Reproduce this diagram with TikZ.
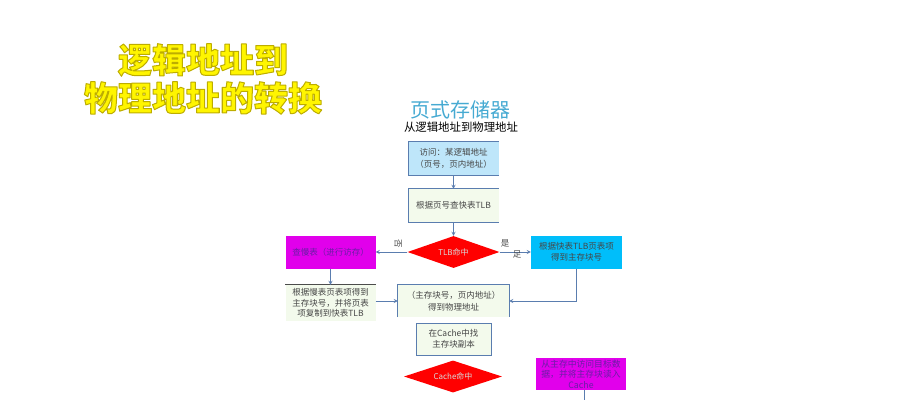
\documentclass[tikz,border=0pt]{standalone}
\usepackage{fontspec}
\setmainfont{Noto Sans CJK SC}
\newfontfamily\pagingSketchHeavy{Noto Sans CJK SC Black}
\usetikzlibrary{shapes.geometric}
\definecolor{pagingSketchLine}{RGB}{90,125,175}
\definecolor{pagingSketchText}{RGB}{70,70,70}
\definecolor{pagingSketchPale}{RGB}{243,250,236}
\definecolor{pagingSketchSky}{RGB}{190,230,250}
\definecolor{pagingSketchCyan}{RGB}{0,190,250}
\definecolor{pagingSketchTitle}{RGB}{70,170,210}
\definecolor{pagingSketchMagenta}{RGB}{225,0,235}
\definecolor{pagingSketchPurple}{RGB}{105,30,165}
\definecolor{pagingSketchHead}{RGB}{255,245,0}
\tikzset{pagingSketchBox/.style={
    font=\fontsize{8.5}{11.5}\selectfont,
    text=pagingSketchText,
    align=center,
    inner sep=0pt,
    minimum width=90pt,
    minimum height=33pt,
    fill=pagingSketchPale,
  }
}
\tikzset{pagingSketchTest/.style={
    diamond,
    aspect=3,
    font=\fontsize{8}{10}\selectfont,
    text=white!85!black,
    fill=red,
    inner sep=0pt,
    minimum width=92pt,
    minimum height=32pt,
  }
}
\tikzset{pagingSketchArrow/.style={
    ->,
    >=stealth,
    line width=0.8pt,
    pagingSketchLine,
  }
}
\tikzset{pagingSketchEdge/.style={
    line width=0.8pt,
    pagingSketchLine,
  }
}
\tikzset{pagingSketchLabel/.style={
    font=\fontsize{8.5}{10}\selectfont,
    text=pagingSketchText,
    inner sep=0pt,
  }
}
\tikzset{pagingSketchHeadline/.style={
    font=\pagingSketchHeavy\fontsize{34}{38}\selectfont,
    inner sep=0pt,
  }
}
\newcommand{\pagingSketchOutline}[1]{%
  {\color{pagingSketchHead}\special{pdf:literal direct 2 Tr 1 w 1 j 0.74 0.68 0 RG}#1}}
\newcommand{\pagingSketchDrawNodes}{
  \node [pagingSketchBox, fill=pagingSketchSky] (visit)
  at (453.5, 158.5) {访问：某逻辑地址\\（页号，页内地址）};
  \node [pagingSketchBox] (lookup)
  at (453.5, 205.5) {根据页号查快表TLB};
  \node [pagingSketchTest] (tlbhit)
  at (453.5, 252) {TLB命中};
  \node [pagingSketchBox, fill=pagingSketchMagenta, text=pagingSketchPurple] (slowtable)
  at (330.5, 252) {查慢表（进行访存）};
  \node [pagingSketchBox, fill=pagingSketchCyan, minimum width=91pt] (tlbentry)
  at (576.5, 252) {根据快表TLB页表项\\得到主存块号};
  \node [pagingSketchBox, minimum height=36pt, font=\fontsize{8.5}{10.6}\selectfont] (refill)
  at (330.5, 303) {根据慢表页表项得到\\主存块号，并将页表\\项复制到快表TLB};
  \node [pagingSketchBox, minimum width=111pt, minimum height=32pt] (physical)
  at (453.5, 301) {（主存块号，页内地址）\\得到物理地址};
  \node [pagingSketchBox, minimum width=75pt, minimum height=32pt, draw=pagingSketchLine, line width=0.8pt] (cachefind)
  at (453.5, 339) {在Cache中找\\主存块副本};
  \node [pagingSketchTest, minimum width=98pt] (cachehit)
  at (453, 376.5) {Cache命中};
  \node [pagingSketchBox, fill=pagingSketchMagenta, text=pagingSketchPurple, minimum height=32pt, font=\fontsize{8.8}{10.6}\selectfont] (memread)
  at (581, 374) {从主存中访问目标数\\据，并将主存块读入\\Cache};
  \coordinate (memout) at (584, 400);
}
\newcommand{\pagingSketchConnectNodes}{
  \draw[pagingSketchEdge] (visit.south east) -- (visit.south west) -- (visit.north west) -- (visit.north east);
  \draw[pagingSketchEdge] (lookup.south east) -- (lookup.south west) -- (lookup.north west) -- (lookup.north east);
  \draw[pagingSketchEdge] (physical.south west) -- (physical.north west) -- (physical.north east) -- (physical.south east);
  \draw[pagingSketchEdge, black!70] (refill.north west) -- (refill.north east);
  \draw[pagingSketchArrow] (visit) -- (lookup);
  \draw[pagingSketchArrow] (lookup) -- (tlbhit);
  \draw[pagingSketchArrow] (tlbhit) -- (slowtable);
  \draw[pagingSketchArrow] (tlbhit) -- (tlbentry);
  \draw[pagingSketchArrow] (slowtable) -- (refill);
  \draw[pagingSketchArrow] (refill.east |- physical) -- (physical);
  \draw[pagingSketchArrow] (tlbentry.south) |- (physical.east);
  \draw[pagingSketchEdge] (memread.south -| memout) -- (memout);
}
\begin{document}
\begin{tikzpicture}[x=1pt, y=-1pt]
  \useasboundingbox (0, 0) rectangle (922, 400);
  \pagingSketchDrawNodes
  \pagingSketchConnectNodes

  \node [pagingSketchHeadline] (headA) at (203, 60) {\pagingSketchOutline{逻辑地址到}};
  \node [pagingSketchHeadline] (headB) at (203, 98) {\pagingSketchOutline{物理地址的转换}};
  \node [font=\fontsize{20}{24}\selectfont, text=pagingSketchTitle, inner sep=0pt] (title) at (460, 110) {页式存储器};
  \node [font=\fontsize{11.4}{13}\selectfont, text=black, inner sep=0pt] (subtitle) at (461, 127) {从逻辑地址到物理地址};
  \node [pagingSketchLabel, rotate=-90] (nolabel) at (398, 244) {否};
  \node [pagingSketchLabel] (yeslabel) at (505, 243) {是};
  \node [pagingSketchLabel] (footlabel) at (517, 254) {足};
\end{tikzpicture}
\end{document}
